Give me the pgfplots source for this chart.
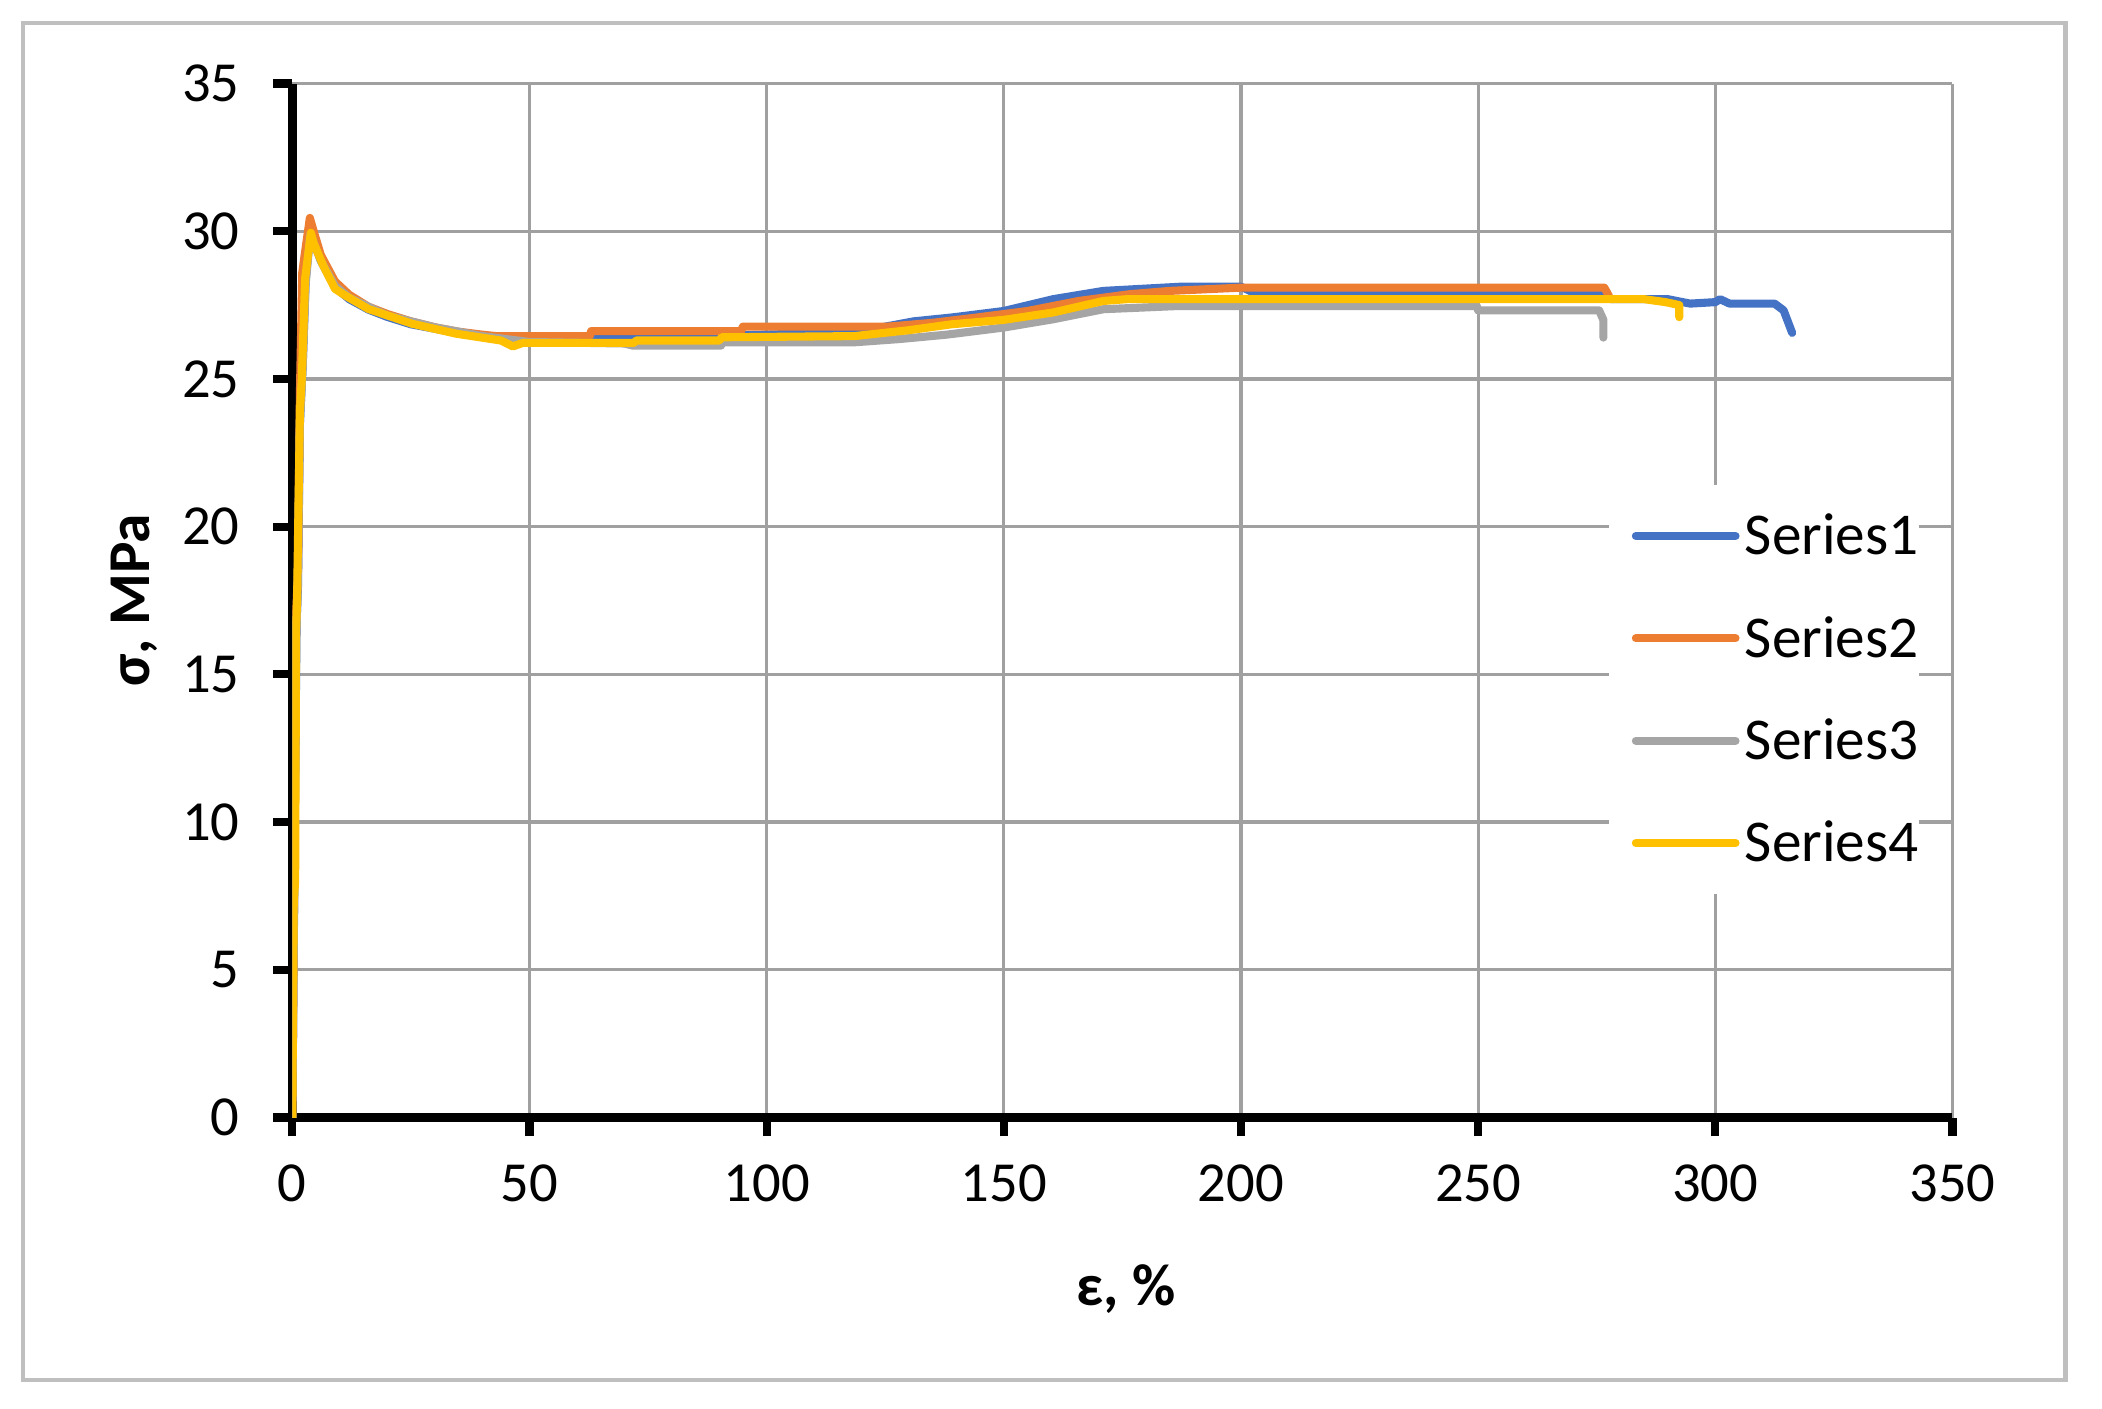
\documentclass[border=0pt]{standalone}
\usepackage{fontspec}
\setmainfont{Carlito}
\usepackage{pgfplots}
\pgfplotsset{compat=1.18}

\definecolor{s1}{HTML}{4472C4}
\definecolor{s2}{HTML}{ED7D31}
\definecolor{s3}{HTML}{A5A5A5}
\definecolor{s4}{HTML}{FFC000}
\definecolor{gridgray}{HTML}{A0A0A0}
\definecolor{framegray}{HTML}{BFBFBF}

\begin{document}
\begin{tikzpicture}
  \useasboundingbox (0,0) rectangle (390.1pt,261.4pt);
  \fill[white] (0,0) rectangle (390.1pt,261.4pt);
  \draw[framegray, line width=0.85pt] (4.25pt,5.3pt) rectangle (383.3pt,257.15pt);
  \begin{axis}[
      at={(54.25pt,54pt)}, anchor=south west,
      scale only axis,
      width=308.1pt,
      height=191.9pt,
      xmin=0, xmax=350,
      ymin=0, ymax=35,
      xtick={0,50,...,350},
      ytick={0,5,...,35},
      axis lines*=left,
      axis line style={line width=1.6pt, black},
      tick align=outside,
      major tick length=3.5pt,
      tick style={line width=1.5pt, black},
      grid=major,
      major grid style={gridgray, line width=0.6pt},
      tick label style={font=\fontsize{10.5}{12}\selectfont},
      yticklabel style={xshift=-2.75pt},
      xticklabel style={yshift=-1.75pt},
      /pgf/number format/assume math mode=true,
      xlabel={ε, \%},
      ylabel={σ, MPa},
      label style={font=\fontsize{11}{13}\selectfont\bfseries},
      xlabel style={at={(axis description cs:0.5023,-0.166)}, anchor=center},
      ylabel style={at={(axis description cs:-0.0949,0.5)}, anchor=center},
      legend style={
          at={(0.7924,0.613)}, anchor=north west,
          draw=none, fill=white,
          font=\fontsize{11}{13}\selectfont,
          inner xsep=0pt, inner ysep=6pt,
          row sep=12pt, column sep=0pt,
          nodes={inner sep=0pt, text height=7pt, text depth=0pt},
        },
      legend cell align=left,
      legend image code/.code={
          \path[use as bounding box, draw=none, fill=none] (-4.25pt,-1pt) rectangle (21pt,1pt);
          \draw[#1, line width=1.5pt, line cap=round] (0.75pt,0pt) -- (19.25pt,0pt);
        },
      every axis plot/.append style={line width=1.5pt, line join=round, line cap=round},
    ]

    % Series1
    \addplot[s1] coordinates {
        (0,0) (0.4,8) (0.9,16.8) (1.2,18) (1.6,23.5) (2.2,25.5) (2.8,28.3)
        (3.8,30.1) (4.5,29.7) (6,29.0) (9,28.1) (12,27.7) (16,27.35) (20,27.1)
        (25,26.85) (30,26.7) (35,26.55) (40,26.45) (45,26.35) (50,26.3)
        (63,26.35) (63.6,26.41) (71,26.41) (80,26.42) (90,26.45) (100,26.5)
        (110,26.55) (120,26.62) (131,26.95) (139,27.08) (150,27.3) (160.4,27.7)
        (171,27.98) (187,28.12) (200,28.12) (203,27.9) (250,27.87) (276.5,27.87)
        (278,27.7) (290,27.7) (294.7,27.55) (300,27.6) (301,27.7) (303,27.55)
        (312.5,27.55) (314.4,27.32) (316.2,26.56)
      };

    % Series2
    \addplot[s2] coordinates {
        (0,0) (0.4,8) (0.8,17) (1.2,18.5) (1.6,24.5) (2.1,28.6) (2.6,29.2)
        (3.7,30.45) (4.5,30.0) (6,29.2) (9,28.3) (12,27.85) (16,27.45)
        (20,27.2) (25,26.95) (30,26.75) (35,26.6) (40,26.5) (43,26.45)
        (62.7,26.45) (63,26.62) (94.6,26.62) (95,26.77) (125.5,26.77)
        (135,26.9) (144.3,27.08) (155,27.3) (165.8,27.64) (176.6,27.87)
        (185,27.98) (200,28.09) (276.6,28.09) (277.6,27.8)
      };

    % Series3
    \addplot[s3] coordinates {
        (0,0) (0.4,7.5) (0.8,16.5) (1.1,17.5) (1.6,23.5) (2.2,25.5) (2.8,28.2)
        (3.8,29.9) (4.5,29.6) (6,29.0) (9,28.15) (12,27.75) (16,27.45)
        (20,27.15) (25,26.95) (30,26.75) (35,26.6) (40,26.45) (45,26.35)
        (50,26.25) (70,26.2) (71.7,26.13) (90.4,26.13) (90.5,26.24)
        (118.5,26.24) (128,26.35) (138,26.5) (150,26.74) (160.4,27.02)
        (171,27.36) (187,27.47) (249.7,27.47) (250,27.32) (275.5,27.32)
        (276.4,27.0) (276.4,26.4)
      };

    % Series4
    \addplot[s4] coordinates {
        (0,0) (0.3,7.3) (0.6,8) (0.8,16.5) (1.0,17.5) (1.6,23.9) (2.0,25)
        (2.7,28.4) (3.9,29.95) (4.5,29.6) (6.5,28.84) (9,28.05) (11.2,27.82)
        (16,27.37) (25.2,26.87) (34.6,26.53) (44,26.3) (46.5,26.1) (48.6,26.22)
        (72,26.22) (72.5,26.3) (90,26.3) (90.5,26.41) (118.5,26.45)
        (130,26.65) (139,26.85) (150,27.0) (160.4,27.25) (171,27.64)
        (176,27.7) (285,27.7) (289.5,27.6) (292.4,27.5) (292.4,27.09)
      };

    \legend{Series1, Series2, Series3, Series4}
  \end{axis}
\end{tikzpicture}
\end{document}
